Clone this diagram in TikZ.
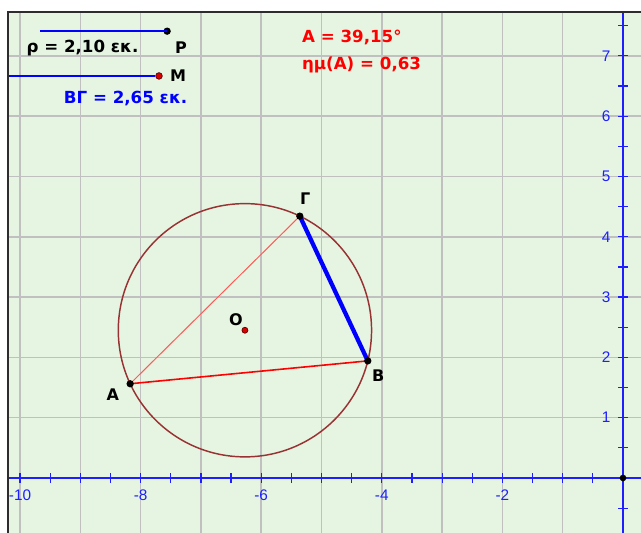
\documentclass[tikz,border=0pt]{standalone}
\usepackage{fontspec}
\setmainfont{DejaVu Sans}
\newfontfamily\axisfont{Liberation Sans}

\definecolor{fond}{RGB}{229,245,225}
\definecolor{grille}{RGB}{192,192,192}
\definecolor{axe}{RGB}{30,30,255}
\definecolor{cercle}{RGB}{153,51,51}
\definecolor{rouge}{RGB}{255,0,0}
\definecolor{rougeclair}{RGB}{255,90,90}
\definecolor{bleu}{RGB}{0,0,255}
\definecolor{bord}{RGB}{45,45,45}

\tikzset{
  pt/.style={circle, fill=black, inner sep=0pt, minimum size=5.5pt},
  ptrouge/.style={circle, fill=rouge!85!black, draw=black!70!red, line width=0.5pt, inner sep=0pt, minimum size=5pt},
  etiq/.style={font=\bfseries\fontsize{12}{14}\selectfont},
  texte/.style={font=\bfseries\fontsize{12.5}{14}\selectfont},
  grad/.style={text=axe, font=\axisfont\fontsize{11.5}{12}\selectfont},
}

\begin{document}
\begin{tikzpicture}[x=45.225pt, y=45.225pt]

    % Cadre de la fenêtre
    \useasboundingbox (-10.332,-0.912) rectangle (0.2985,7.927);
    \fill[white] (-10.332,-0.912) rectangle (0.2985,7.927);
    \fill[fond] (-10.199,-0.912) rectangle (0.2985,7.728);

    \begin{scope}
    \clip (-10.199,-0.912) rectangle (0.2985,7.728);

    % Grille
    \foreach \x in {-10,...,-1}
        \draw[grille, line width=1.1pt] (\x,-1) -- (\x,8);
    \foreach \y in {1,...,7}
        \draw[grille, line width=1.1pt] (-11,\y) -- (1,\y);

    % Axes et graduations
    \draw[axe, line width=1.2pt] (-11,0) -- (1,0);
    \draw[axe, line width=1.2pt] (0,-1) -- (0,8);
    \foreach \x in {-10,-9.5,...,-0.5}
        \draw[axe, line width=0.9pt] (\x,0) ++(0,-3.5pt) -- ++(0,7pt);
    \foreach \y in {-0.5,0.5,1,...,7.5}
        \draw[axe, line width=0.9pt] (0,\y) ++(-3.5pt,0) -- ++(7pt,0);
    \foreach \x in {-10,-8,-6,-4,-2}
        \node[grad, anchor=north] (gx\x) at (\x,-0.12) {\x};
    \foreach \y in {1,...,7}
        \node[grad, anchor=east] (gy\y) at (-0.13,\y) {\y};
    \node[pt, minimum size=5pt] (orig) at (0,0) {};

    % Segments de longueur rho et BΓ
    \coordinate (rho0) at (-9.67,7.41);
    \node[pt] (P) at (-7.56,7.41) {};
    \draw[bleu, line width=1.1pt] (rho0) -- (P.center);
    \coordinate (bg0) at (-10.35,6.667);
    \node[ptrouge] (M) at (-7.695,6.667) {};
    \draw[bleu, line width=1.1pt] (bg0) -- (M.west);
    \end{scope}

    \node[etiq] (lP) at (-7.33,7.13) {Ρ};
    \node[etiq] (lM) at (-7.38,6.68) {M};
    \node[texte, anchor=west] (trho) at (-9.97,7.13) {ρ = 2,10 εκ.};
    \node[texte, anchor=west, text=bleu] (tbg) at (-9.35,6.30) {ΒΓ = 2,65 εκ.};

    % Valeurs de l'angle A
    \node[texte, anchor=west, text=rouge] (tA) at (-5.40,7.30) {A = 39,15°};
    \node[texte, anchor=west, text=rouge] (tsin) at (-5.40,6.85) {ημ(A) = 0,63};

    % Cercle et triangle
    \coordinate (O) at (-6.27,2.45);
    \path (O) ++(205:2.1) coordinate (A);
    \path (O) ++(-14:2.1) coordinate (B);
    \path (O) ++(64.3:2.1) coordinate (G);
    \draw[cercle, line width=1.1pt] (O) circle (2.1);
    \draw[rouge, line width=1.2pt] (A) -- (B);
    \draw[rougeclair, line width=0.75pt] (A) -- (G);
    \draw[bleu, line width=3.2pt] (B) -- (G);

    % Points et noms
    \node[pt] (nA) at (A) {};
    \node[pt] (nB) at (B) {};
    \node[pt] (nG) at (G) {};
    \node[ptrouge, minimum size=4.5pt] (nO) at (O) {};
    \node[etiq] (lA) at (-8.46,1.38) {A};
    \node[etiq] (lB) at (-4.06,1.69) {B};
    \node[etiq] (lG) at (-5.27,4.64) {Γ};
    \node[etiq] (lO) at (-6.42,2.62) {O};

    % Bordure
    \draw[bord, line width=2pt] (-10.199,-0.912) -- (-10.199,7.728) -- (0.2985,7.728);
\end{tikzpicture}
\end{document}
